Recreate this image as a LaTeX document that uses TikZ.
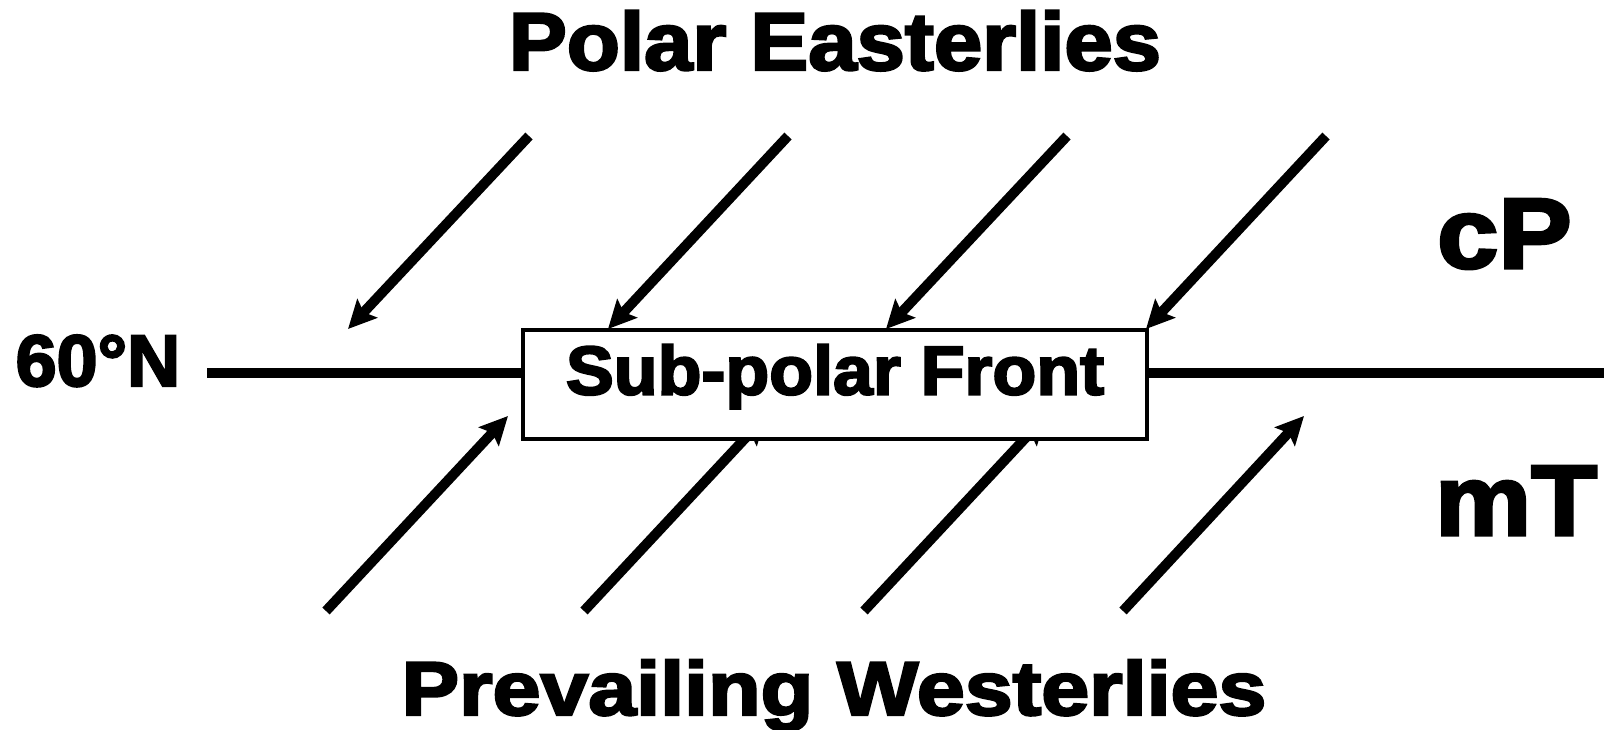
\documentclass[tikz,border=0pt]{standalone}
\usepackage{fontspec}
\setmainfont{Liberation Sans}
\newfontfamily\heavyfont{Liberation Sans Bold}[FakeBold=3]
\usetikzlibrary{arrows.meta}
\begin{document}
\begin{tikzpicture}[x=1pt,y=-1pt,
  lbl/.style={inner sep=0pt, anchor=base},
  wind/.style={line width=10pt, -{Stealth[length=28pt,width=27pt,inset=5pt]}},
  lat/.style={line width=10.5pt}
]
\useasboundingbox (0,0) rectangle (1604,730);
% titles
\node[lbl, font=\heavyfont\fontsize{82}{82}\selectfont] (pe) at (835,70) {\scalebox{1.06}[1]{Polar Easterlies}};
\node[lbl, font=\heavyfont\fontsize{82}{82}\selectfont] (pw) at (834,715) {\scalebox{1.05}[0.93]{Prevailing Westerlies}};
\node[lbl, font=\heavyfont\fontsize{73}{73}\selectfont] (lat60) at (98,386) {\scalebox{1.01}[1]{60°N}};
\node[lbl, font=\heavyfont\fontsize{100}{100}\selectfont, anchor=base west] (cp) at (1437,268) {\scalebox{1.1}[1]{cP}};
\node[lbl, font=\heavyfont\fontsize{100}{100}\selectfont, anchor=base west] (mt) at (1435,535) {\scalebox{1.08}[1]{mT}};
% bottom wind arrows (behind box)
\coordinate (b1s) at (326,611); \coordinate (b1e) at (508,416);
\coordinate (b2s) at (584,611); \coordinate (b2e) at (766,416);
\coordinate (b3s) at (864,611); \coordinate (b3e) at (1046,416);
\coordinate (b4s) at (1123,611); \coordinate (b4e) at (1304,416);
\foreach \i in {1,...,4} \draw[wind] (b\i s) -- (b\i e);
% front box
\node[draw, line width=4pt, fill=white, minimum width=624pt, inner xsep=0pt, inner ysep=17pt,
      text height=48pt, text depth=27pt, font=\heavyfont\fontsize{69}{69}\selectfont]
      (front) at (835,384) {\scalebox{1.04}[1]{Sub-polar Front}};
% latitude line
\coordinate (ll) at (207,373);
\coordinate (lr) at (1604,373);
\draw[lat] (ll) -- (front.west |- ll);
\draw[lat] (front.east |- lr) -- (lr);
% top wind arrows
\coordinate (t1s) at (529,136); \coordinate (t1e) at (348,329);
\coordinate (t2s) at (788,136); \coordinate (t2e) at (608,329);
\coordinate (t3s) at (1067,136); \coordinate (t3e) at (886,329);
\coordinate (t4s) at (1326,136); \coordinate (t4e) at (1146,329);
\foreach \i in {1,...,4} \draw[wind] (t\i s) -- (t\i e);
\end{tikzpicture}
\end{document}
